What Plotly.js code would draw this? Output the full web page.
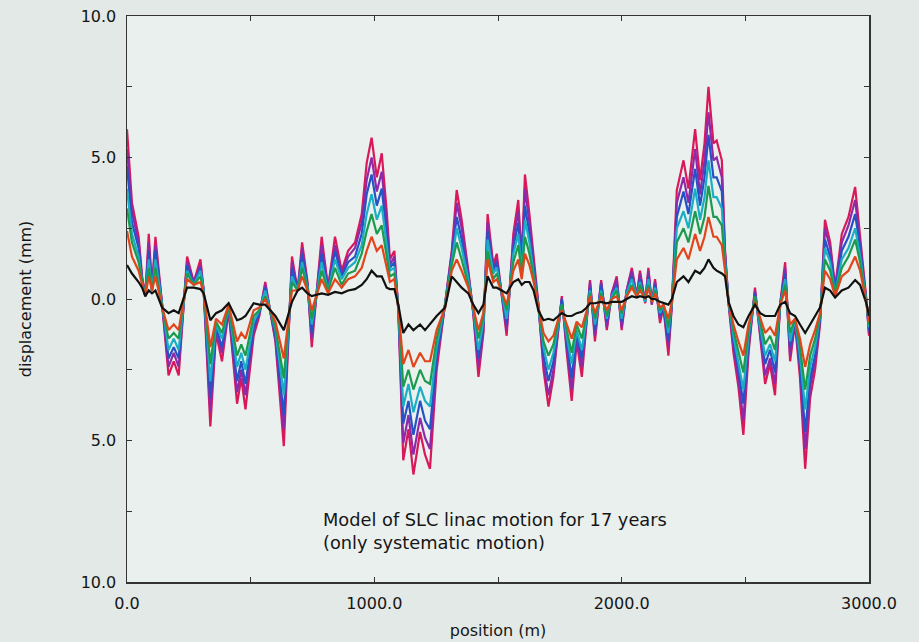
<!DOCTYPE html>
<html>
<head>
<meta charset="utf-8">
<script src="https://cdn.plot.ly/plotly-3.0.1.min.js"></script>
<style>html,body{margin:0;padding:0;background:#e2e9e6;}#chart{width:919px;height:642px;}</style>
</head>
<body>
<div id="chart"></div>
<script>
const positions = [0,20,47,61,74,88,101,115,142,168,189,209,243,270,297,310,337,360,384,411,445,462,479,512,535,559,600,634,667,690,708,730,747,787,813,841,868,894,922,949,969,989,1010,1030,1050,1063,1081,1097,1117,1138,1158,1185,1205,1225,1252,1286,1313,1333,1353,1380,1400,1421,1441,1458,1481,1495,1535,1562,1582,1596,1609,1627,1644,1663,1684,1704,1724,1744,1758,1778,1798,1818,1839,1859,1872,1892,1917,1940,1960,1980,2000,2020,2041,2061,2074,2095,2108,2122,2135,2155,2169,2189,2203,2223,2250,2270,2297,2317,2335,2351,2371,2384,2405,2418,2432,2452,2472,2492,2513,2539,2560,2580,2600,2620,2641,2661,2681,2701,2721,2742,2762,2782,2802,2822,2843,2863,2890,2917,2944,2964,2991,3000];

const dispMagenta = [6.0,3.4,2.2,0.8,0.1,2.3,0.4,2.2,-0.2,-2.7,-2.2,-2.7,1.5,0.6,1.4,0.3,-4.5,-1.2,-2.2,-0.4,-3.7,-2.8,-3.9,-1.3,-0.6,0.6,-1.5,-5.2,1.5,0.3,2.0,0.6,-1.7,2.2,0.4,2.2,1.0,1.7,2.0,3.0,4.8,5.7,4.3,5.15,3.1,1.4,1.7,-0.4,-5.7,-4.6,-6.2,-4.7,-5.5,-6.0,-2.5,-0.15,1.7,3.85,2.8,1.0,-0.5,-2.75,-1.2,3.0,1.2,1.6,-1.3,2.3,3.5,1.4,4.4,3.0,1.4,-0.15,-2.5,-3.8,-2.75,-1.1,0.1,-1.9,-3.6,-1.5,-2.75,-0.75,0.67,-1.5,0.67,-1.1,0.2,0.8,-1.1,0.3,1.1,0.1,1.0,-0.15,1.1,-0.2,0.7,-0.85,-0.3,-2.0,-0.2,3.85,4.9,3.9,6.0,4.2,5.5,7.5,5.5,5.6,4.9,1.7,-0.15,-1.9,-3.1,-4.8,-1.9,0.4,-1.3,-3.0,-2.3,-3.4,-0.15,1.3,-2.2,-0.85,-2.8,-6.0,-3.5,-2.5,-0.9,2.8,2.0,0.4,2.3,2.9,3.96,2.3,-0.15,-1.3];

const dispPurple = [5.3,3.1,2.0,0.7,0.1,2.0,0.4,1.9,-0.2,-2.4,-1.9,-2.4,1.3,0.6,1.2,0.3,-4.0,-1.1,-1.9,-0.4,-3.3,-2.5,-3.4,-1.1,-0.5,0.5,-1.4,-4.6,1.3,0.3,1.8,0.5,-1.4,1.9,0.4,1.9,0.9,1.5,1.8,2.7,4.2,5.0,3.8,4.5,2.7,1.2,1.5,-0.4,-5.1,-4.1,-5.5,-4.2,-4.9,-5.3,-2.2,-0.2,1.6,3.4,2.5,0.9,-0.5,-2.4,-1.1,2.7,1.1,1.4,-1.1,2.1,3.1,1.3,3.9,2.7,1.2,-0.2,-2.3,-3.4,-2.5,-1.0,0.0,-1.7,-3.2,-1.4,-2.4,-0.7,0.6,-1.3,0.6,-1.0,0.2,0.7,-1.0,0.3,1.0,0.1,0.9,-0.1,1.0,-0.2,0.6,-0.7,-0.3,-1.7,-0.2,3.4,4.3,3.4,5.3,3.7,4.9,6.6,4.9,5.0,4.3,1.6,-0.1,-1.7,-2.8,-4.3,-1.7,0.3,-1.2,-2.7,-2.1,-3.0,-0.2,1.1,-2.0,-0.8,-2.5,-5.3,-3.1,-2.2,-0.8,2.5,1.8,0.4,2.0,2.6,3.5,2.0,-0.2,-1.2];

const dispBlue = [4.7,2.7,1.8,0.7,0.1,1.7,0.3,1.7,-0.2,-2.1,-1.7,-2.1,1.2,0.5,1.1,0.3,-3.5,-1.0,-1.7,-0.3,-2.9,-2.2,-3.0,-1.0,-0.5,0.4,-1.3,-4.1,1.1,0.3,1.6,0.5,-1.2,1.6,0.3,1.7,0.8,1.3,1.5,2.3,3.7,4.4,3.3,3.9,2.3,1.1,1.3,-0.3,-4.4,-3.6,-4.8,-3.6,-4.3,-4.6,-2.0,-0.2,1.5,2.9,2.1,0.8,-0.4,-2.1,-0.9,2.4,1.0,1.3,-0.9,1.8,2.7,1.1,3.3,2.3,1.1,-0.2,-2.0,-2.9,-2.2,-1.0,0.0,-1.5,-2.8,-1.2,-2.1,-0.6,0.4,-1.1,0.5,-0.8,0.1,0.5,-0.8,0.2,0.8,0.1,0.7,-0.1,0.8,-0.1,0.5,-0.6,-0.3,-1.5,-0.1,2.9,3.8,3.0,4.6,3.3,4.3,5.8,4.3,4.3,3.8,1.5,-0.1,-1.5,-2.5,-3.7,-1.5,0.2,-1.1,-2.3,-1.8,-2.6,-0.2,0.9,-1.7,-0.8,-2.3,-4.7,-2.8,-2.0,-0.7,2.1,1.5,0.3,1.7,2.2,3.0,1.8,-0.2,-1.1];

const dispCyan = [3.9,2.3,1.5,0.6,0.1,1.4,0.3,1.4,-0.2,-1.8,-1.4,-1.8,1.0,0.5,1.0,0.3,-2.9,-0.9,-1.4,-0.3,-2.4,-1.9,-2.5,-0.8,-0.4,0.3,-1.1,-3.4,0.8,0.3,1.3,0.4,-0.9,1.3,0.3,1.4,0.7,1.1,1.3,1.9,3.0,3.7,2.8,3.3,1.9,1.0,1.1,-0.3,-3.8,-3.0,-4.0,-3.1,-3.6,-3.8,-1.7,-0.2,1.3,2.5,1.8,0.7,-0.4,-1.8,-0.8,2.1,0.9,1.1,-0.7,1.6,2.3,1.0,2.8,2.0,0.9,-0.3,-1.7,-2.5,-1.9,-0.9,-0.2,-1.3,-2.3,-1.1,-1.8,-0.6,0.3,-0.9,0.3,-0.7,0.1,0.4,-0.7,0.2,0.7,0.1,0.6,-0.1,0.7,-0.1,0.4,-0.5,-0.2,-1.2,-0.1,2.5,3.1,2.5,3.9,2.8,3.6,4.9,3.6,3.6,3.2,1.3,-0.1,-1.3,-2.2,-3.2,-1.3,0.1,-1.0,-2.0,-1.6,-2.2,-0.2,0.7,-1.5,-0.7,-2.0,-3.9,-2.4,-1.7,-0.6,1.8,1.3,0.2,1.4,1.8,2.5,1.5,-0.2,-1.0];

const dispGreen = [3.2,2.0,1.3,0.6,0.1,1.1,0.3,1.1,-0.3,-1.4,-1.2,-1.4,0.9,0.5,0.8,0.2,-2.3,-0.8,-1.2,-0.3,-2.0,-1.6,-2.0,-0.6,-0.4,0.1,-1.0,-2.8,0.6,0.3,1.1,0.4,-0.7,1.0,0.3,1.1,0.5,0.9,1.0,1.6,2.4,3.0,2.3,2.6,1.5,0.8,0.9,-0.3,-3.1,-2.5,-3.2,-2.5,-2.9,-3.0,-1.4,-0.2,1.2,2.0,1.4,0.5,-0.3,-1.4,-0.6,1.7,0.7,0.9,-0.4,1.3,1.9,0.9,2.2,1.6,0.8,-0.3,-1.5,-2.0,-1.6,-0.8,-0.2,-1.1,-1.9,-0.9,-1.4,-0.5,0.2,-0.7,0.2,-0.6,0.0,0.3,-0.5,0.1,0.5,0.1,0.5,0.0,0.5,-0.1,0.3,-0.4,-0.2,-1.0,-0.1,2.0,2.5,2.0,3.1,2.3,2.9,4.0,2.9,2.9,2.6,1.2,-0.1,-1.1,-1.8,-2.6,-1.1,0.1,-0.8,-1.6,-1.3,-1.8,-0.2,0.5,-1.2,-0.7,-1.7,-3.2,-2.0,-1.4,-0.6,1.4,1.0,0.2,1.1,1.5,2.1,1.3,-0.2,-0.9];

const dispRed = [2.4,1.5,1.0,0.5,0.1,0.8,0.3,0.8,-0.3,-1.1,-0.9,-1.1,0.7,0.5,0.6,0.2,-1.7,-0.7,-0.9,-0.2,-1.5,-1.2,-1.4,-0.4,-0.3,0.0,-0.8,-2.1,0.3,0.3,0.8,0.3,-0.4,0.7,0.2,0.7,0.4,0.7,0.8,1.1,1.7,2.2,1.7,1.9,1.1,0.6,0.7,-0.3,-2.3,-1.8,-2.4,-1.9,-2.2,-2.2,-1.1,-0.3,1.0,1.4,1.0,0.4,-0.3,-1.1,-0.5,1.4,0.6,0.7,-0.2,1.0,1.4,0.7,1.6,1.2,0.6,-0.3,-1.2,-1.5,-1.3,-0.7,-0.4,-0.9,-1.4,-0.8,-1.0,-0.4,0.1,-0.5,0.1,-0.4,0.0,0.1,-0.4,0.1,0.4,0.1,0.3,0.0,0.4,-0.1,0.2,-0.3,-0.2,-0.7,-0.1,1.4,1.8,1.4,2.3,1.7,2.2,2.9,2.2,2.2,1.9,1.0,-0.1,-0.9,-1.5,-2.0,-0.9,-0.1,-0.7,-1.2,-1.0,-1.3,-0.2,0.3,-0.9,-0.7,-1.4,-2.4,-1.6,-1.1,-0.5,1.0,0.7,0.1,0.8,1.0,1.5,1.0,-0.2,-0.8];

const dispBlack = [1.2,0.9,0.6,0.4,0.1,0.3,0.2,0.3,-0.3,-0.5,-0.4,-0.5,0.4,0.4,0.35,0.2,-0.75,-0.5,-0.4,-0.15,-0.75,-0.7,-0.6,-0.15,-0.2,-0.2,-0.6,-1.1,-0.1,0.3,0.4,0.2,0.1,0.2,0.15,0.25,0.2,0.3,0.35,0.5,0.7,1.0,0.8,0.8,0.4,0.35,0.35,-0.2,-1.2,-0.9,-1.1,-0.9,-1.1,-0.9,-0.6,-0.3,0.8,0.6,0.4,0.2,-0.2,-0.5,-0.2,0.8,0.4,0.4,0.2,0.6,0.7,0.5,0.6,0.6,0.3,-0.4,-0.75,-0.7,-0.75,-0.6,-0.5,-0.6,-0.6,-0.5,-0.45,-0.3,-0.15,-0.15,-0.1,-0.15,-0.1,-0.1,-0.1,0.0,0.1,0.05,0.1,0.05,0.1,0.0,0.0,-0.1,-0.15,-0.2,0.0,0.6,0.8,0.6,1.0,0.9,1.1,1.4,1.1,1.0,0.9,0.8,-0.1,-0.6,-0.9,-1.0,-0.6,-0.2,-0.5,-0.6,-0.6,-0.6,-0.2,-0.1,-0.5,-0.6,-0.9,-1.2,-0.9,-0.6,-0.3,0.4,0.3,0.05,0.3,0.4,0.67,0.5,-0.2,-0.6];

const xTickVals = [0,500,1000,1500,2000,2500,3000];
const xTickText = ['0.0','','1000.0','','2000.0','','3000.0'];
const yTickVals = [-10,-7.5,-5,-2.5,0,2.5,5,7.5,10];
const yTickText = ['10.0','','5.0','','0.0','','5.0','','10.0'];

const seriesList = [
  {y: dispMagenta, color: '#d8185a'},
  {y: dispPurple, color: '#8e2aa8'},
  {y: dispBlue, color: '#2552c4'},
  {y: dispCyan, color: '#1aaec4'},
  {y: dispGreen, color: '#1c9a4e'},
  {y: dispRed, color: '#e2451c'},
  {y: dispBlack, color: '#111111'}
];

const traces = seriesList.map(s => ({
  x: positions, y: s.y, type: 'scatter', mode: 'lines',
  line: {color: s.color, width: 2.2}, showlegend: false, hoverinfo: 'skip'
}));

const FAM = 'DejaVu Sans, Liberation Sans, Arial, sans-serif';
const INK = '#161616';

const layout = {
  width: 919, height: 642,
  margin: {l: 127, r: 50, t: 16, b: 60},
  paper_bgcolor: '#e2e9e6',
  plot_bgcolor: '#eaf0ed',
  font: {family: FAM, size: 16, color: INK},
  showlegend: false,
  xaxis: {
    range: [0, 3000], tickvals: xTickVals, ticktext: xTickText,
    ticks: 'inside', ticklen: 5, tickcolor: '#333', mirror: 'ticks',
    showline: true, linecolor: '#333', linewidth: 1.5, showgrid: false, zeroline: false,
    ticklabelstandoff: 6,
    tickfont: {family: FAM, size: 16, color: INK},
    title: {text: 'position (m)', standoff: 13, font: {family: FAM, size: 16, color: INK}}
  },
  yaxis: {
    range: [-10, 10], tickvals: yTickVals, ticktext: yTickText,
    ticks: 'inside', ticklen: 5, tickcolor: '#333', mirror: 'ticks',
    showline: true, linecolor: '#333', linewidth: 1.5, showgrid: false, zeroline: false,
    ticklabelstandoff: 6,
    tickfont: {family: FAM, size: 16, color: INK},
    title: {text: 'displacement (mm)', standoff: 45, font: {family: FAM, size: 16, color: INK}}
  },
  annotations: [{
    x: 784, y: -7.35, xref: 'x', yref: 'y', xanchor: 'left', yanchor: 'top',
    text: 'Model of SLC linac motion for 17 years<br>(only systematic motion)',
    showarrow: false, align: 'left',
    font: {family: FAM, size: 17.8, color: INK}
  }]
};

Plotly.newPlot('chart', traces, layout, {displayModeBar: false, staticPlot: true});
</script>
</body>
</html>
